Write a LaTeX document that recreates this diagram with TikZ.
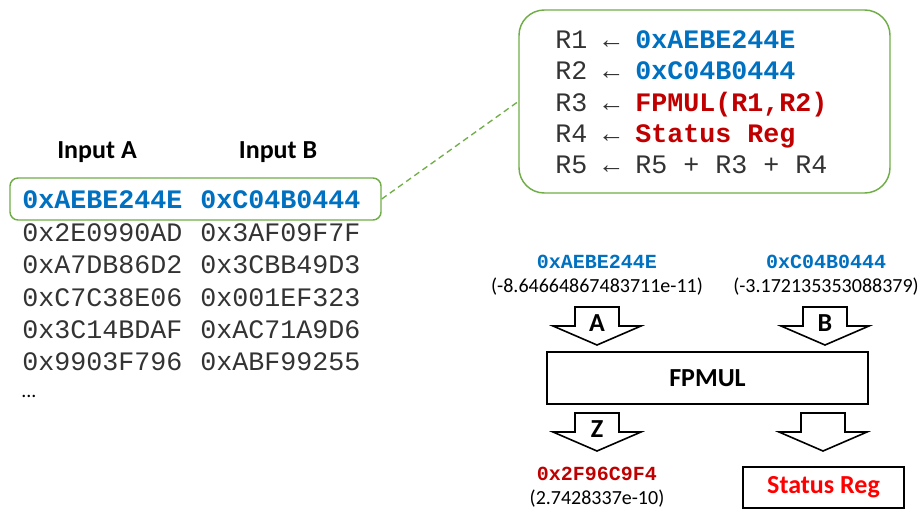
\documentclass[tikz,border=0pt]{standalone}
\usepackage{fontspec}
\setmainfont{Carlito}
\newfontfamily\monofont{Liberation Mono}
\usepackage{tikz}
\usetikzlibrary{calc}

\definecolor{hexblue}{HTML}{0070C0}
\definecolor{hexred}{HTML}{C00000}
\definecolor{boxgreen}{HTML}{70AD47}

\tikzset{
  mono/.style={font=\monofont\fontsize{20}{24}\selectfont, inner sep=0pt, anchor=west, text depth=0pt},
  monosmall/.style={font=\monofont\bfseries\fontsize{15}{18}\selectfont, inner sep=0pt},
  head/.style={font=\bfseries\fontsize{19.5}{23}\selectfont, inner sep=0pt},
  value/.style={font=\fontsize{15}{18}\selectfont, inner sep=0pt},
  greenbox/.style={draw=boxgreen, line width=1.1pt},
  blockbox/.style={draw=black, line width=1.2pt, inner sep=0pt},
  blockarrow/.style={draw=black, line width=1.2pt, line join=miter}
}

\begin{document}
\begin{tikzpicture}[x=0.75pt, y=-0.75pt]
\useasboundingbox (0,0) rectangle (920,514);

% input table
\node[head] (inA) at (97,152) {Input A};
\node[head] (inB) at (278,152) {Input B};

\node[greenbox, rounded corners=6pt, minimum width=278.25pt, minimum height=31.5pt] (hl) at (195.5,199) {};
\node[mono, text=hexblue, font=\monofont\bfseries\fontsize{20}{24}\selectfont] (a1) at (22,200) {0xAEBE244E};
\node[mono, text=hexblue, font=\monofont\bfseries\fontsize{20}{24}\selectfont] (b1) at (200,200) {0xC04B0444};

\foreach \va/\vb [count=\i from 2] in {0x2E0990AD/0x3AF09F7F, 0xA7DB86D2/0x3CBB49D3,
  0xC7C38E06/0x001EF323, 0x3C14BDAF/0xAC71A9D6, 0x9903F796/0xABF99255} {
  \node[mono, text=black!80] (a\i) at (22,{200+32.4*(\i-1)}) {\va};
  \node[mono, text=black!80] (b\i) at (200,{200+32.4*(\i-1)}) {\vb};
}
\node[value, anchor=west] (dots) at (21,396) {...};

% program box
\node[greenbox, rounded corners=19pt, minimum width=278.25pt, minimum height=137.25pt] (code) at (704.5,101.5) {};
\node[mono, text=black!80] (r1) at (555,40) {R1 ← \textcolor{hexblue}{\bfseries 0xAEBE244E}};
\node[mono, text=black!80] (r2) at (555,71) {R2 ← \textcolor{hexblue}{\bfseries 0xC04B0444}};
\node[mono, text=black!80] (r3) at (555,102) {R3 ← \textcolor{hexred}{\bfseries FPMUL(R1,R2)}};
\node[mono, text=black!80] (r4) at (555,134) {R4 ← \textcolor{hexred}{\bfseries Status Reg}};
\node[mono, text=black!80] (r5) at (555,165) {R5 ← R5 + R3 + R4};

\draw[boxgreen, line width=1pt, dash pattern=on 4.5pt off 3pt] (hl.east) -- (code.west);

% multiplier unit
\node[monosmall, text=hexblue] (hexA) at (597,262) {0xAEBE244E};
\node[value] (valA) at (597,287) {(-8.64664867483711e-11)};
\node[monosmall, text=hexblue] (hexB) at (826,262) {0xC04B0444};
\node[value] (valB) at (826,287) {(-3.172135353088379)};

\node[blockbox, minimum width=240.75pt, minimum height=39pt, head] (fpmul) at (707.5,378) {FPMUL};

\foreach \cx/\ty/\lbl in {597/307/A, 825/307/B, 597/413/Z, 823/413/{}} {
  \draw[blockarrow] (\cx-22,\ty) -- (\cx+22,\ty) -- (\cx+22,\ty+19) -- (\cx+44,\ty+19)
    -- (\cx,\ty+38) -- (\cx-44,\ty+19) -- (\cx-22,\ty+19) -- cycle;
  \node[head] at (\cx,\ty+16) {\lbl};
}

\node[monosmall, text=hexred] (hexZ) at (597,474) {0x2F96C9F4};
\node[value] (valZ) at (597,499) {(2.7428337e-10)};
\node[blockbox, minimum width=120.75pt, minimum height=30.75pt, head, text=red] (status) at (823.5,487.5) {Status Reg};
\end{tikzpicture}
\end{document}
